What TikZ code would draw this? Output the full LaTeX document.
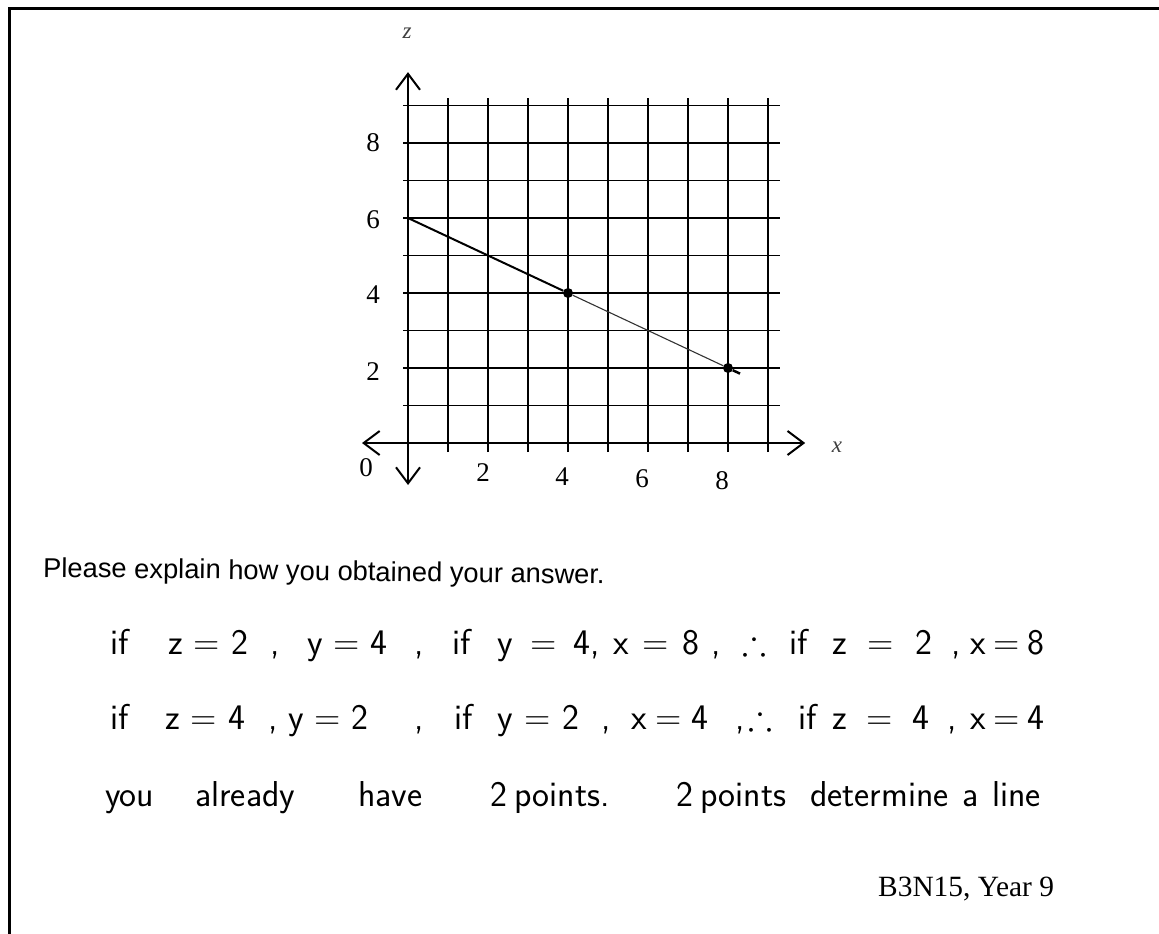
\documentclass[tikz,border=0pt]{standalone}
\usepackage{fontspec}
\usepackage{amssymb}
\usetikzlibrary{arrows.meta}
\newfontfamily\sansf{Liberation Sans}
\newfontfamily\seriff{Liberation Serif}
\tikzset{
  gridline/.style={line width=1.8pt, black},
  axisline/.style={line width=2pt, black, {Straight Barb[length=16pt,width=24pt,line width=2pt]}-{Straight Barb[length=16pt,width=24pt,line width=2pt]}},
  ticklab/.style={font=\seriff\fontsize{27}{31}\selectfont, inner sep=0pt},
  axlab/.style={font=\seriff\itshape\fontsize{23}{27}\selectfont, inner sep=0pt, black!75},
  hand/.style={font=\sffamily\fontsize{36}{42}\selectfont, anchor=base west, inner sep=0pt},
  ptdot/.style={circle, fill=black, inner sep=0pt, minimum size=10pt},
  seg1/.style={line width=2pt},
  seg2/.style={line width=1.1pt, black!80},
}
\begin{document}
\begin{tikzpicture}[x=1pt,y=-1pt]
\useasboundingbox (0,0) rectangle (1159,934);
\fill[white] (0,0) rectangle (1159,934);
\draw[line width=3pt] (9,934) -- (9,9) -- (1159,9);

% axis and tick labels
\node[axlab] (lz) at (407,33) {z};
\node[axlab] (lx) at (837,447) {x};
\node[ticklab] (l0) at (366,468) {0};
\node[ticklab] (lz8) at (373,143) {8};
\node[ticklab] (lz6) at (373,220) {6};
\node[ticklab] (lz4) at (373,295) {4};
\node[ticklab] (lz2) at (373,372) {2};
\node[ticklab] (lx2) at (483,473) {2};
\node[ticklab] (lx4) at (562,477) {4};
\node[ticklab] (lx6) at (642,479) {6};
\node[ticklab] (lx8) at (722,481) {8};

\begin{scope}[shift={(408,443)}, x=40pt, y=37.5pt]
  \foreach \i in {1,...,9} \draw[gridline] (\i,-0.24) -- (\i,9.2);
  \foreach \j in {1,...,9} \draw[gridline] (-0.12,\j) -- (9.3,\j);
  \coordinate (zb) at (0,-1.12);
  \coordinate (zt) at (0,9.89);
  \coordinate (xl) at (-1.15,0);
  \coordinate (xr) at (9.93,0);
  \draw[axisline] (zb) -- (zt);
  \draw[axisline] (xl) -- (xr);
  \coordinate (p0) at (0,6);
  \node[ptdot] (p1) at (4,4) {};
  \node[ptdot] (p2) at (8,2) {};
  \coordinate (p3) at (8.3,1.85);
  \draw[seg1] (p0) -- (p1);
  \draw[seg2] (p1) -- (p2);
  \draw[line width=2.5pt] (p2) -- (p3);
\end{scope}

% texts
\node[anchor=base west, inner sep=0pt, rotate=-0.7, font=\sansf\fontsize{27.3}{32}\selectfont] (q) at (43,577) {Please explain how you obtained your answer.};

\foreach \a/\b/\t [count=\k] in {110/138/if, 168/248/{z = 2}, 270/276/{,}, 307/387/{y = 4}, 414/420/{,}, 452/479/if, 497/600/{y = 4,}, 613/699/{x = 8}, 711/717/{,}, 742/757/{$\therefore$}, 789/810/if, 832/932/{z = 2}, 951/957/{,}, 970/1042/{x = 8}}
  {\pgfmathsetmacro\w{\b-\a}
   \node[hand] (ha\k) at (\a,654) {\makebox[\w pt][s]{\t}};}

\foreach \a/\b/\t [count=\k] in {110/135/if, 165/245/{z = 4}, 268/274/{,}, 288/368/{y = 2}, 414/420/{,}, 454/477/if, 497/579/{y = 2}, 601/607/{,}, 631/708/{x = 4}, 735/741/{,}, 748/762/{$\therefore$}, 798/816/if, 832/929/{z = 4}, 947/953/{,}, 970/1042/{x = 4}}
  {\pgfmathsetmacro\w{\b-\a}
   \node[hand] (hb\k) at (\a,729) {\makebox[\w pt][s]{\t}};}

\foreach \a/\b/\t [count=\k] in {105/157/you, 195/310/already, 358/423/have, 490/585/{2 points}, 600/606/., 676/775/{2 points}, 810/945/determine, 962/977/a, 992/1040/line}
  {\pgfmathsetmacro\w{\b-\a}
   \node[hand] (hc\k) at (\a,806) {\makebox[\w pt][s]{\t}};}

\node[anchor=base west, inner sep=0pt, font=\seriff\fontsize{29.4}{34}\selectfont] (yr) at (878,896) {B3N15, Year 9};
\end{tikzpicture}
\end{document}
